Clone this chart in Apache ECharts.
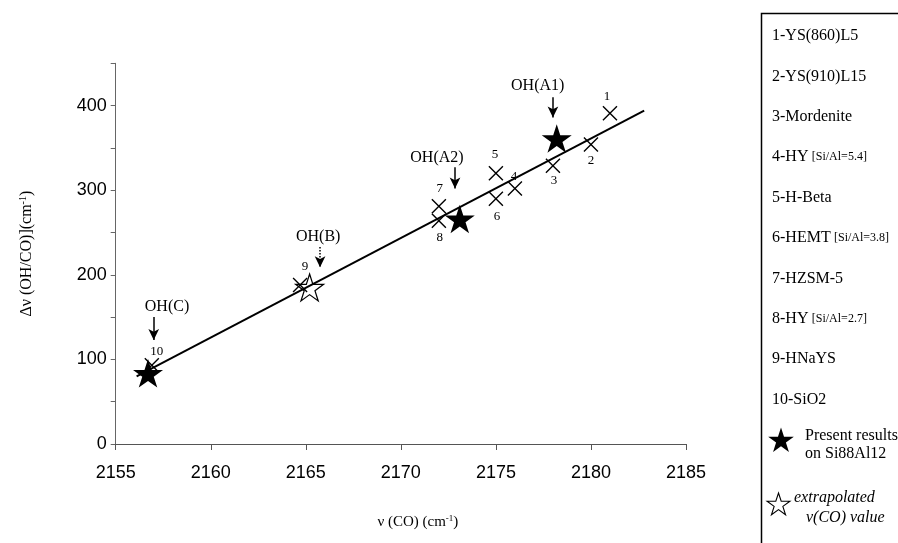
<!DOCTYPE html>
<html>
<head>
<meta charset="utf-8">
<script src="https://cdn.jsdelivr.net/npm/echarts@6/dist/echarts.min.js"></script>
<style>html,body{margin:0;padding:0;background:#fff;}#c{width:898px;height:543px;}</style>
</head>
<body>
<div id="c"></div>
<script>
// ---- data ----
const sampleIds = ['1','2','3','4','5','6','7','8','9','10'];
const sampleCO = [2181, 2180, 2178, 2176, 2175, 2175, 2172, 2172, 2164.7, 2156.9];
const sampleShift = [391, 354, 329, 302, 320, 290, 281, 264, 188, 93];
const presentCO = [2178.2, 2173.1, 2156.7];
const presentShift = [361, 266, 83.5];
const extrapCO = [2165.2];
const extrapShift = [185];
const fitCO = [2156.1, 2182.8];
const fitShift = [80, 394];
const arrowNames = ['OH(A1)', 'OH(A2)', 'OH(B)', 'OH(C)'];
const arrowCO = [2178.0, 2172.85, 2165.75, 2157.0];
const arrowFrom = [410, 327, 233, 150];
const arrowTo = [386, 302, 209, 123];
const arrowTextCO = [2177.2, 2171.9, 2165.65, 2157.7];
const arrowTextShift = [423, 338.5, 245, 162];
const legendNames = ['1-YS(860)L5','2-YS(910)L15','3-Mordenite','4-HY','5-H-Beta','6-HEMT','7-HZSM-5','8-HY','9-HNaYS','10-SiO2'];
const legendNotes = ['','','','[Si/Al=5.4]','','[Si/Al=3.8]','','[Si/Al=2.7]','',''];

// ---- styling / layout helpers ----
const numberOffsets = [[-3,-17],[0,16],[1,15],[-1,-12],[-1,-19],[1,18],[1,-18],[1,17],[5,-18],[5,-14]];
const SERIF = 'Liberation Serif';
const STAR = 'M50,0L61.23,34.55L97.55,34.55L68.17,55.9L79.39,90.45L50,69.1L20.61,90.45L31.83,55.9L2.45,34.55L38.77,34.55Z';
const CROSS = 'path://M0,1.3L1.3,0L10,8.7L18.7,0L20,1.3L11.3,10L20,18.7L18.7,20L10,11.3L1.3,20L0,18.7L8.7,10Z';

function starPoints(cx, cy, R) {
  const pts = [];
  for (let k = 0; k < 10; k++) {
    const r = k % 2 === 0 ? R : R * 0.382;
    const a = (-90 + 36 * k) * Math.PI / 180;
    pts.push([cx + r * Math.cos(a), cy + r * Math.sin(a)]);
  }
  return pts;
}

const chart = echarts.init(document.getElementById('c'));

const legendGraphics = [{
  type: 'rect', shape: {x: 761.5, y: 13.5, width: 300, height: 600},
  style: {fill: '#fff', stroke: '#000', lineWidth: 1.5}, silent: true
}];
legendNames.forEach((n, i) => {
  legendGraphics.push({
    type: 'text', x: 772, y: 36 + 40.4 * i, silent: true,
    style: {
      text: legendNotes[i] ? '{a|' + n + '} {b|' + legendNotes[i] + '}' : '{a|' + n + '}',
      verticalAlign: 'middle',
      rich: {a: {fontFamily: SERIF, fontSize: 16, fill: '#000'}, b: {fontFamily: SERIF, fontSize: 12, fill: '#000'}}
    }
  });
});
legendGraphics.push(
  {type: 'polygon', silent: true, shape: {points: starPoints(781, 441, 13.5)}, style: {fill: '#000'}},
  {type: 'text', x: 805, y: 436, silent: true, style: {text: 'Present results', font: '16px ' + SERIF, fill: '#000', verticalAlign: 'middle'}},
  {type: 'text', x: 805, y: 454, silent: true, style: {text: 'on Si88Al12', font: '16px ' + SERIF, fill: '#000', verticalAlign: 'middle'}},
  {type: 'polygon', silent: true, shape: {points: starPoints(778.5, 505, 12)}, style: {fill: 'none', stroke: '#000', lineWidth: 1.1}},
  {type: 'text', x: 794, y: 498, silent: true, style: {text: 'extrapolated', font: 'italic 16px ' + SERIF, fill: '#000', verticalAlign: 'middle'}},
  {type: 'text', x: 806, y: 518, silent: true, style: {text: 'ν(CO) value', font: 'italic 16px ' + SERIF, fill: '#000', verticalAlign: 'middle'}}
);

const option = {
  animation: false,
  backgroundColor: '#fff',
  grid: {left: 115.7, right: 212, top: 63.3, bottom: 99},
  xAxis: {
    type: 'value', min: 2155, max: 2185, interval: 5,
    name: 'ν (CO) (cm{sup|-1})', nameLocation: 'middle', nameGap: 70,
    nameTextStyle: {fontFamily: SERIF, fontSize: 15, color: '#000', padding: [0, 0, 0, 34],
      rich: {sup: {fontFamily: SERIF, fontSize: 9, color: '#000', padding: [0, 0, 7, 0]}}},
    axisLine: {show: true, onZero: false, lineStyle: {color: '#555', width: 1}},
    axisTick: {show: true, length: 6, lineStyle: {color: '#555'}},
    splitLine: {show: false},
    axisLabel: {fontFamily: 'Liberation Sans', fontSize: 18, color: '#000', margin: 20,
      formatter: v => String(v)}
  },
  yAxis: {
    type: 'value', min: 0, max: 450, interval: 50,
    name: 'Δν (OH/CO)](cm{sup|-1})', nameLocation: 'middle', nameGap: 80, nameRotate: 90,
    nameTextStyle: {fontFamily: SERIF, fontSize: 16, color: '#000',
      rich: {sup: {fontFamily: SERIF, fontSize: 10, color: '#000', padding: [0, 0, 7, 0]}}},
    axisLine: {show: true, onZero: false, lineStyle: {color: '#666', width: 1}},
    axisTick: {show: true, length: 5, lineStyle: {color: '#666'}},
    splitLine: {show: false},
    axisLabel: {fontFamily: 'Liberation Sans', fontSize: 18, color: '#000', margin: 9,
      formatter: v => (v % 100 === 0 ? String(v) : '')}
  },
  series: [
    {
      type: 'line', silent: true, symbol: 'none', z: 2,
      data: fitCO.map((x, i) => [x, fitShift[i]]),
      lineStyle: {color: '#000', width: 2}
    },
    {
      type: 'scatter', silent: true, symbol: CROSS, symbolSize: 15, z: 3,
      itemStyle: {color: '#000', opacity: 1},
      data: sampleCO.map((x, i) => ({
        value: [x, sampleShift[i]], name: sampleIds[i],
        label: {offset: numberOffsets[i]}
      })),
      label: {show: true, position: 'inside', formatter: p => p.name,
        fontFamily: SERIF, fontSize: 13, color: '#000'}
    },
    {
      type: 'scatter', silent: true, symbol: 'path://' + STAR, symbolSize: [30, 28.5], z: 4,
      itemStyle: {color: '#000', opacity: 1},
      data: presentCO.map((x, i) => [x, presentShift[i]])
    },
    {
      type: 'scatter', silent: true, symbol: 'path://' + STAR, symbolSize: [28, 27], z: 4,
      itemStyle: {color: 'rgba(0,0,0,0)', borderColor: '#000', borderWidth: 1.2, opacity: 1},
      data: extrapCO.map((x, i) => [x, extrapShift[i]])
    },
    {
      type: 'scatter', silent: true, symbolSize: 1, z: 5,
      itemStyle: {color: 'rgba(0,0,0,0)', opacity: 1},
      data: arrowTextCO.map((x, i) => ({value: [x, arrowTextShift[i]], name: arrowNames[i]})),
      label: {show: true, position: 'inside', formatter: p => p.name,
        fontFamily: SERIF, fontSize: 16, color: '#000'}
    },
    {
      type: 'line', silent: true, symbol: 'none', z: 5, data: [],
      lineStyle: {color: '#000'}, itemStyle: {color: '#000'},
      markLine: {
        silent: true, symbol: ['none', 'arrow'], symbolSize: [8, 11],
        label: {show: false}, emphasis: {disabled: true},
        itemStyle: {color: '#000'},
        lineStyle: {color: '#000', width: 1.5, type: 'solid'},
        data: arrowCO.map((x, i) => [
          {coord: [x, arrowFrom[i]], lineStyle: {type: arrowNames[i] === 'OH(B)' ? 'dotted' : 'solid'}},
          {coord: [x, arrowTo[i]]}
        ])
      }
    }
  ],
  graphic: legendGraphics
};
chart.setOption(option);
</script>
</body>
</html>
